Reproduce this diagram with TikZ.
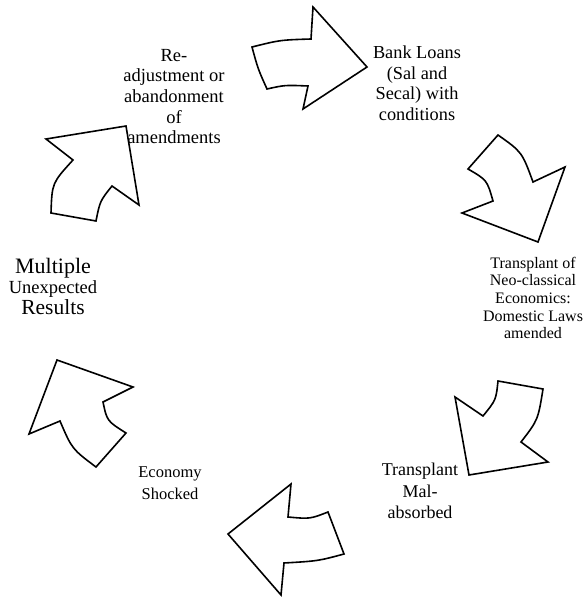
\documentclass[tikz,border=0pt]{standalone}
\usepackage{fontspec}
\setmainfont{Liberation Serif}
\begin{document}
\begin{tikzpicture}[x=1pt,y=-1pt,
  bigarrow/.style={draw=black, line width=1.6pt, line join=miter, fill=white},
  lbl/.style={align=center, inner sep=0pt, font=\fontsize{18.3}{20.5}\selectfont}]
\useasboundingbox (0,0) rectangle (588,597);
\fill[white] (0,0) rectangle (588,597);
% arrow 1 (top)
\draw[bigarrow] (252,47) .. controls (280,40) .. (311,39) -- (313,7) -- (367,67) -- (303,109) -- (308,86)
   .. controls (285,85) .. (267,89) .. controls (258,69) .. cycle;
% arrow 2 (right upper)
\draw[bigarrow] (498,135) .. controls (522,152) .. (533,182) -- (565,167) -- (538,242) -- (462,213) -- (493,201)
   .. controls (487,180) .. (468,169) -- cycle;
% arrow 3 (right lower)
\draw[bigarrow] (498,381) -- (543,389) .. controls (538,420) .. (521,442) -- (548,462) -- (469,475) -- (455,397)
   -- (483,416) .. controls (496,400) .. cycle;
% arrow 4 (bottom)
\draw[bigarrow] (291,484) -- (288,517) .. controls (310,519) .. (328,512) -- (344,554)
   .. controls (318,561) .. (284,563) -- (281,595) -- (228,534) -- cycle;
% arrow 5 (left lower)
\draw[bigarrow] (57,360) -- (133,387) -- (103,402) .. controls (107,421) .. (126,433) -- (96,467)
   .. controls (72,449) .. (60,421) -- (29,434) -- cycle;
% arrow 6 (upper left)
\draw[bigarrow] (46,139) -- (126,126) -- (139,205) -- (112,186) .. controls (100,201) .. (96,221)
   -- (51,213) .. controls (52,183) .. (73,160) -- cycle;

\node[lbl, font=\fontsize{18.5}{20.7}\selectfont] (readj) at (174,96.5) {Re-\\adjustment or\\abandonment\\of\\amendments};
\node[lbl] (bank) at (417,83) {Bank Loans\\(Sal and\\Secal) with\\conditions};
\node[lbl, font=\fontsize{16}{17.6}\selectfont] (transp) at (533,298) {Transplant of\\Neo-classical\\Economics:\\Domestic Laws\\amended};
\node[lbl, font=\fontsize{18}{21.5}\selectfont] (mal) at (420,491) {Transplant\\Mal-\\absorbed};
\node[lbl, font=\fontsize{16.5}{22}\selectfont] (econ) at (170,483) {Economy\\Shocked};
\node[lbl] (mult) at (53,286) {{\fontsize{22}{23.5}\selectfont Multiple}\\{\fontsize{18.5}{23.5}\selectfont Unexpected}\\{\fontsize{21.5}{23.5}\selectfont Results}};
\end{tikzpicture}
\end{document}
